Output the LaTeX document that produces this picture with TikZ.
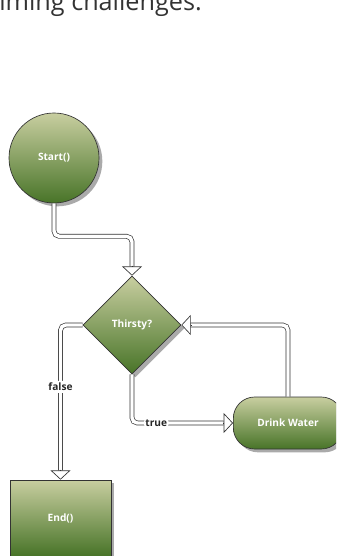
\documentclass[tikz,border=0pt]{standalone}
\usepackage{fontspec}
\setmainfont{Open Sans}
\usetikzlibrary{shapes.geometric,shadows,arrows.meta,calc}

\definecolor{leafTop}{RGB}{200,206,160}
\definecolor{leafBot}{RGB}{72,116,40}
\definecolor{pipeGray}{RGB}{50,50,50}
\definecolor{shade}{RGB}{170,170,170}

\tikzset{
	block/.style={draw=black!80, line width=0.5pt, top color=leafTop, bottom color=leafBot,
		text=white, font=\bfseries\fontsize{7.6}{9}\selectfont, inner sep=0pt,
		drop shadow={shadow xshift=2.5pt, shadow yshift=-2.5pt, fill=shade, opacity=1}},
	pipe/.style={draw=pipeGray, line width=0.5pt, double=white, double distance=2.6pt, rounded corners=4pt, shorten >=7pt},
	pipehead/.style={draw=pipeGray, line width=0.5pt, -{Triangle[open, length=7pt, width=15pt]}},
	tag/.style={fill=white, inner sep=1.5pt, font=\bfseries\fontsize{7.6}{9}\selectfont, text=black!85}
}

\begin{document}
\begin{tikzpicture}[x=0.75pt,y=0.75pt,yscale=-1,xscale=1]
	\useasboundingbox (0,0) rectangle (336,556);
	\begin{scope}
	\clip (0,0) rectangle (336,556);
	\node (head) [anchor=base west, inner sep=0pt, text=black!80, font=\fontsize{18.9}{22}\selectfont] at (-1,11) {iming challenges.};

	\node (start) [block, circle, minimum size=67.5pt] at (54,158) {Start()};
	\node (thirsty) [block, diamond, aspect=1, minimum size=73.5pt] at (132,325) {Thirsty?};
	\node (drink) [block, rectangle, rounded corners=16pt, minimum width=82pt, minimum height=39pt] at (288,423) {Drink Water};
	\node (endbox) [block, rectangle, minimum width=75.75pt, minimum height=57pt] at (60.5,518) {End()};

	% double pipes, heads drawn on top
	\draw [pipe] (start.south) -- ++(0,33) -| (thirsty.north);
	\draw [pipehead] ($(thirsty.north)+(0,-10)$) -- (thirsty.north);
	\draw [pipe] (thirsty.west) -| (endbox.north) node [tag, pos=0.7] {false};
	\draw [pipehead] ($(endbox.north)+(0,-10)$) -- (endbox.north);
	\draw [pipe] (thirsty.south) |- (drink.west) node [tag, pos=0.62] {true};
	\draw [pipehead] ($(drink.west)+(-10,0)$) -- (drink.west);
	\draw [pipe] (drink.north) |- (thirsty.east);
	\draw [pipehead] ($(thirsty.east)+(10,0)$) -- (thirsty.east);
	\end{scope}
\end{tikzpicture}
\end{document}
